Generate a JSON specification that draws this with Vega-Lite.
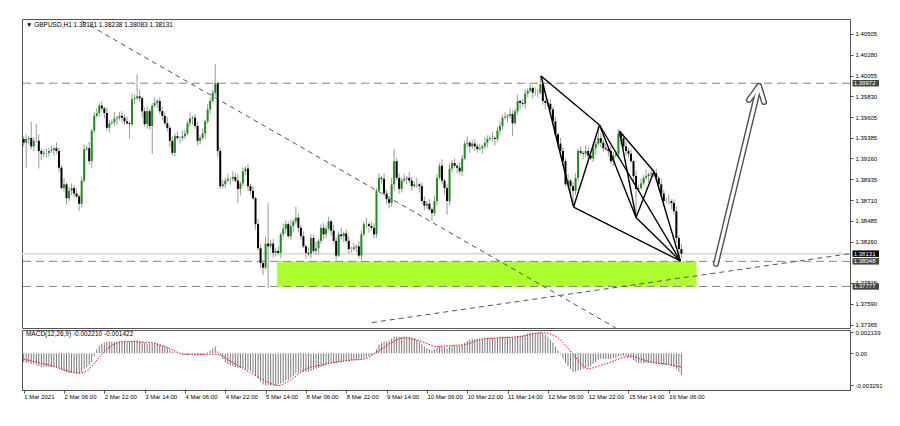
{
"$schema":"https://vega.github.io/schema/vega-lite/v6.json",
"background":"white",
"padding":{"left":20,"top":18,"right":0,"bottom":0},
"spacing":2,
"bounds":"flush",
"config":{"view":{"stroke":"#555","strokeWidth":1},"axis":{"labelFont":"Liberation Sans","labelFontSize":6,"labelColor":"#000","domainColor":"#555","tickColor":"#555","tickSize":3,"grid":false,"labelOverlap":false,"labelFlush":false,"labelBound":false}},
"datasets":{
"bars":[
{"i":0,"o":1.3937,"h":1.3940,"l":1.3929,"c":1.3933,"m":-0.0009},
{"i":1,"o":1.3933,"h":1.3942,"l":1.3906,"c":1.3937,"m":-0.0010},
{"i":2,"o":1.3937,"h":1.3940,"l":1.3931,"c":1.3938,"m":-0.0010},
{"i":3,"o":1.3938,"h":1.3956,"l":1.3926,"c":1.3929,"m":-0.0011},
{"i":4,"o":1.3929,"h":1.3939,"l":1.3924,"c":1.3935,"m":-0.0011},
{"i":5,"o":1.3935,"h":1.3953,"l":1.3933,"c":1.3935,"m":-0.0012},
{"i":6,"o":1.3935,"h":1.3942,"l":1.3905,"c":1.3924,"m":-0.0013},
{"i":7,"o":1.3924,"h":1.3926,"l":1.3914,"c":1.3921,"m":-0.0014},
{"i":8,"o":1.3921,"h":1.3926,"l":1.3918,"c":1.3922,"m":-0.0014},
{"i":9,"o":1.3922,"h":1.3927,"l":1.3917,"c":1.3922,"m":-0.0014},
{"i":10,"o":1.3922,"h":1.3927,"l":1.3918,"c":1.3924,"m":-0.0014},
{"i":11,"o":1.3924,"h":1.3930,"l":1.3922,"c":1.3925,"m":-0.0014},
{"i":12,"o":1.3925,"h":1.3929,"l":1.3919,"c":1.3927,"m":-0.0014},
{"i":13,"o":1.3927,"h":1.3933,"l":1.3921,"c":1.3924,"m":-0.0014},
{"i":14,"o":1.3924,"h":1.3928,"l":1.3901,"c":1.3906,"m":-0.0015},
{"i":15,"o":1.3906,"h":1.3909,"l":1.3882,"c":1.3884,"m":-0.0017},
{"i":16,"o":1.3884,"h":1.3895,"l":1.3880,"c":1.3888,"m":-0.0018},
{"i":17,"o":1.3888,"h":1.3890,"l":1.3866,"c":1.3873,"m":-0.0019},
{"i":18,"o":1.3873,"h":1.3885,"l":1.3870,"c":1.3881,"m":-0.0020},
{"i":19,"o":1.3881,"h":1.3889,"l":1.3876,"c":1.3884,"m":-0.0020},
{"i":20,"o":1.3884,"h":1.3887,"l":1.3874,"c":1.3878,"m":-0.0020},
{"i":21,"o":1.3878,"h":1.3883,"l":1.3873,"c":1.3875,"m":-0.0021},
{"i":22,"o":1.3875,"h":1.3877,"l":1.3859,"c":1.3867,"m":-0.0021},
{"i":23,"o":1.3867,"h":1.3896,"l":1.3863,"c":1.3892,"m":-0.0019},
{"i":24,"o":1.3892,"h":1.3931,"l":1.3890,"c":1.3926,"m":-0.0016},
{"i":25,"o":1.3926,"h":1.3930,"l":1.3924,"c":1.3927,"m":-0.0014},
{"i":26,"o":1.3927,"h":1.3934,"l":1.3909,"c":1.3913,"m":-0.0012},
{"i":27,"o":1.3913,"h":1.3948,"l":1.3906,"c":1.3946,"m":-0.0009},
{"i":28,"o":1.3946,"h":1.3966,"l":1.3943,"c":1.3962,"m":-0.0003},
{"i":29,"o":1.3962,"h":1.3970,"l":1.3960,"c":1.3965,"m":0.0004},
{"i":30,"o":1.3965,"h":1.3976,"l":1.3961,"c":1.3973,"m":0.0008},
{"i":31,"o":1.3973,"h":1.3978,"l":1.3968,"c":1.3970,"m":0.0010},
{"i":32,"o":1.3970,"h":1.3972,"l":1.3959,"c":1.3965,"m":0.0011},
{"i":33,"o":1.3965,"h":1.3971,"l":1.3946,"c":1.3949,"m":0.0012},
{"i":34,"o":1.3949,"h":1.3958,"l":1.3944,"c":1.3954,"m":0.0012},
{"i":35,"o":1.3954,"h":1.3958,"l":1.3952,"c":1.3955,"m":0.0012},
{"i":36,"o":1.3955,"h":1.3966,"l":1.3951,"c":1.3959,"m":0.0012},
{"i":37,"o":1.3959,"h":1.3962,"l":1.3952,"c":1.3960,"m":0.0012},
{"i":38,"o":1.3960,"h":1.3966,"l":1.3957,"c":1.3962,"m":0.0012},
{"i":39,"o":1.3962,"h":1.3967,"l":1.3955,"c":1.3960,"m":0.0012},
{"i":40,"o":1.3960,"h":1.3963,"l":1.3952,"c":1.3956,"m":0.0012},
{"i":41,"o":1.3956,"h":1.3961,"l":1.3952,"c":1.3954,"m":0.0012},
{"i":42,"o":1.3954,"h":1.3956,"l":1.3937,"c":1.3953,"m":0.0012},
{"i":43,"o":1.3953,"h":1.3986,"l":1.3950,"c":1.3980,"m":0.0013},
{"i":44,"o":1.3980,"h":1.3985,"l":1.3975,"c":1.3981,"m":0.0013},
{"i":45,"o":1.3981,"h":1.4007,"l":1.3979,"c":1.3983,"m":0.0013},
{"i":46,"o":1.3983,"h":1.3990,"l":1.3977,"c":1.3981,"m":0.0012},
{"i":47,"o":1.3981,"h":1.3983,"l":1.3960,"c":1.3967,"m":0.0012},
{"i":48,"o":1.3967,"h":1.3971,"l":1.3950,"c":1.3953,"m":0.0011},
{"i":49,"o":1.3953,"h":1.3972,"l":1.3948,"c":1.3967,"m":0.0010},
{"i":50,"o":1.3967,"h":1.3970,"l":1.3947,"c":1.3951,"m":0.0010},
{"i":51,"o":1.3951,"h":1.3976,"l":1.3921,"c":1.3973,"m":0.0010},
{"i":52,"o":1.3973,"h":1.3982,"l":1.3971,"c":1.3976,"m":0.0010},
{"i":53,"o":1.3976,"h":1.3980,"l":1.3970,"c":1.3978,"m":0.0010},
{"i":54,"o":1.3978,"h":1.3982,"l":1.3964,"c":1.3967,"m":0.0009},
{"i":55,"o":1.3967,"h":1.3972,"l":1.3957,"c":1.3962,"m":0.0008},
{"i":56,"o":1.3962,"h":1.3965,"l":1.3952,"c":1.3954,"m":0.0007},
{"i":57,"o":1.3954,"h":1.3961,"l":1.3945,"c":1.3949,"m":0.0006},
{"i":58,"o":1.3949,"h":1.3951,"l":1.3928,"c":1.3935,"m":0.0004},
{"i":59,"o":1.3935,"h":1.3940,"l":1.3919,"c":1.3922,"m":0.0002},
{"i":60,"o":1.3922,"h":1.3943,"l":1.3918,"c":1.3940,"m":0.0001},
{"i":61,"o":1.3940,"h":1.3945,"l":1.3936,"c":1.3938,"m":0.0000},
{"i":62,"o":1.3938,"h":1.3940,"l":1.3932,"c":1.3938,"m":-0.0001},
{"i":63,"o":1.3938,"h":1.3946,"l":1.3935,"c":1.3940,"m":-0.0001},
{"i":64,"o":1.3940,"h":1.3947,"l":1.3937,"c":1.3943,"m":-0.0002},
{"i":65,"o":1.3943,"h":1.3957,"l":1.3941,"c":1.3954,"m":-0.0002},
{"i":66,"o":1.3954,"h":1.3966,"l":1.3950,"c":1.3959,"m":-0.0001},
{"i":67,"o":1.3959,"h":1.3962,"l":1.3952,"c":1.3960,"m":-0.0001},
{"i":68,"o":1.3960,"h":1.3964,"l":1.3948,"c":1.3951,"m":-0.0002},
{"i":69,"o":1.3951,"h":1.3956,"l":1.3930,"c":1.3935,"m":-0.0002},
{"i":70,"o":1.3935,"h":1.3941,"l":1.3931,"c":1.3938,"m":-0.0002},
{"i":71,"o":1.3938,"h":1.3948,"l":1.3936,"c":1.3943,"m":-0.0002},
{"i":72,"o":1.3943,"h":1.3958,"l":1.3937,"c":1.3956,"m":-0.0001},
{"i":73,"o":1.3956,"h":1.3975,"l":1.3953,"c":1.3969,"m":0.0001},
{"i":74,"o":1.3969,"h":1.3982,"l":1.3964,"c":1.3978,"m":0.0003},
{"i":75,"o":1.3978,"h":1.3990,"l":1.3976,"c":1.3987,"m":0.0005},
{"i":76,"o":1.3987,"h":1.4018,"l":1.3983,"c":1.3997,"m":0.0007},
{"i":77,"o":1.3997,"h":1.3999,"l":1.3917,"c":1.3924,"m":0.0002},
{"i":78,"o":1.3924,"h":1.3928,"l":1.3883,"c":1.3886,"m":-0.0002},
{"i":79,"o":1.3886,"h":1.3893,"l":1.3884,"c":1.3888,"m":-0.0006},
{"i":80,"o":1.3888,"h":1.3895,"l":1.3884,"c":1.3892,"m":-0.0009},
{"i":81,"o":1.3892,"h":1.3899,"l":1.3890,"c":1.3894,"m":-0.0011},
{"i":82,"o":1.3894,"h":1.3896,"l":1.3888,"c":1.3894,"m":-0.0012},
{"i":83,"o":1.3894,"h":1.3902,"l":1.3891,"c":1.3896,"m":-0.0013},
{"i":84,"o":1.3896,"h":1.3900,"l":1.3890,"c":1.3892,"m":-0.0014},
{"i":85,"o":1.3892,"h":1.3899,"l":1.3868,"c":1.3883,"m":-0.0015},
{"i":86,"o":1.3883,"h":1.3891,"l":1.3876,"c":1.3889,"m":-0.0015},
{"i":87,"o":1.3889,"h":1.3906,"l":1.3886,"c":1.3902,"m":-0.0015},
{"i":88,"o":1.3902,"h":1.3907,"l":1.3898,"c":1.3905,"m":-0.0016},
{"i":89,"o":1.3905,"h":1.3910,"l":1.3881,"c":1.3886,"m":-0.0017},
{"i":90,"o":1.3886,"h":1.3889,"l":1.3877,"c":1.3881,"m":-0.0018},
{"i":91,"o":1.3881,"h":1.3886,"l":1.3871,"c":1.3873,"m":-0.0020},
{"i":92,"o":1.3873,"h":1.3875,"l":1.3839,"c":1.3845,"m":-0.0023},
{"i":93,"o":1.3845,"h":1.3851,"l":1.3816,"c":1.3819,"m":-0.0026},
{"i":94,"o":1.3819,"h":1.3823,"l":1.3798,"c":1.3803,"m":-0.0029},
{"i":95,"o":1.3803,"h":1.3806,"l":1.3790,"c":1.3798,"m":-0.0032},
{"i":96,"o":1.3798,"h":1.3831,"l":1.3796,"c":1.3824,"m":-0.0033},
{"i":97,"o":1.3824,"h":1.3868,"l":1.3776,"c":1.3821,"m":-0.0033},
{"i":98,"o":1.3821,"h":1.3828,"l":1.3818,"c":1.3824,"m":-0.0033},
{"i":99,"o":1.3824,"h":1.3829,"l":1.3809,"c":1.3814,"m":-0.0033},
{"i":100,"o":1.3814,"h":1.3819,"l":1.3810,"c":1.3816,"m":-0.0033},
{"i":101,"o":1.3816,"h":1.3821,"l":1.3812,"c":1.3814,"m":-0.0032},
{"i":102,"o":1.3814,"h":1.3836,"l":1.3808,"c":1.3834,"m":-0.0031},
{"i":103,"o":1.3834,"h":1.3846,"l":1.3831,"c":1.3840,"m":-0.0030},
{"i":104,"o":1.3840,"h":1.3849,"l":1.3835,"c":1.3845,"m":-0.0028},
{"i":105,"o":1.3845,"h":1.3848,"l":1.3830,"c":1.3832,"m":-0.0027},
{"i":106,"o":1.3832,"h":1.3850,"l":1.3828,"c":1.3843,"m":-0.0025},
{"i":107,"o":1.3843,"h":1.3850,"l":1.3836,"c":1.3848,"m":-0.0023},
{"i":108,"o":1.3848,"h":1.3864,"l":1.3845,"c":1.3852,"m":-0.0021},
{"i":109,"o":1.3852,"h":1.3857,"l":1.3836,"c":1.3841,"m":-0.0020},
{"i":110,"o":1.3841,"h":1.3844,"l":1.3828,"c":1.3832,"m":-0.0019},
{"i":111,"o":1.3832,"h":1.3837,"l":1.3819,"c":1.3821,"m":-0.0019},
{"i":112,"o":1.3821,"h":1.3823,"l":1.3808,"c":1.3814,"m":-0.0019},
{"i":113,"o":1.3814,"h":1.3820,"l":1.3810,"c":1.3813,"m":-0.0019},
{"i":114,"o":1.3813,"h":1.3834,"l":1.3808,"c":1.3830,"m":-0.0018},
{"i":115,"o":1.3830,"h":1.3833,"l":1.3814,"c":1.3816,"m":-0.0017},
{"i":116,"o":1.3816,"h":1.3826,"l":1.3812,"c":1.3819,"m":-0.0016},
{"i":117,"o":1.3819,"h":1.3829,"l":1.3812,"c":1.3827,"m":-0.0015},
{"i":118,"o":1.3827,"h":1.3845,"l":1.3824,"c":1.3841,"m":-0.0014},
{"i":119,"o":1.3841,"h":1.3846,"l":1.3829,"c":1.3834,"m":-0.0013},
{"i":120,"o":1.3834,"h":1.3843,"l":1.3830,"c":1.3840,"m":-0.0012},
{"i":121,"o":1.3840,"h":1.3853,"l":1.3838,"c":1.3848,"m":-0.0011},
{"i":122,"o":1.3848,"h":1.3850,"l":1.3832,"c":1.3838,"m":-0.0010},
{"i":123,"o":1.3838,"h":1.3844,"l":1.3824,"c":1.3827,"m":-0.0010},
{"i":124,"o":1.3827,"h":1.3831,"l":1.3806,"c":1.3811,"m":-0.0010},
{"i":125,"o":1.3811,"h":1.3837,"l":1.3809,"c":1.3834,"m":-0.0009},
{"i":126,"o":1.3834,"h":1.3841,"l":1.3828,"c":1.3832,"m":-0.0009},
{"i":127,"o":1.3832,"h":1.3837,"l":1.3825,"c":1.3835,"m":-0.0008},
{"i":128,"o":1.3835,"h":1.3839,"l":1.3824,"c":1.3827,"m":-0.0008},
{"i":129,"o":1.3827,"h":1.3832,"l":1.3813,"c":1.3818,"m":-0.0008},
{"i":130,"o":1.3818,"h":1.3821,"l":1.3814,"c":1.3818,"m":-0.0007},
{"i":131,"o":1.3818,"h":1.3825,"l":1.3816,"c":1.3820,"m":-0.0007},
{"i":132,"o":1.3820,"h":1.3823,"l":1.3815,"c":1.3821,"m":-0.0007},
{"i":133,"o":1.3821,"h":1.3827,"l":1.3808,"c":1.3811,"m":-0.0007},
{"i":134,"o":1.3811,"h":1.3838,"l":1.3806,"c":1.3834,"m":-0.0006},
{"i":135,"o":1.3834,"h":1.3848,"l":1.3832,"c":1.3845,"m":-0.0005},
{"i":136,"o":1.3845,"h":1.3852,"l":1.3841,"c":1.3845,"m":-0.0004},
{"i":137,"o":1.3845,"h":1.3847,"l":1.3836,"c":1.3843,"m":-0.0003},
{"i":138,"o":1.3843,"h":1.3847,"l":1.3838,"c":1.3841,"m":-0.0002},
{"i":139,"o":1.3841,"h":1.3846,"l":1.3829,"c":1.3834,"m":-0.0001},
{"i":140,"o":1.3834,"h":1.3884,"l":1.3830,"c":1.3881,"m":0.0004},
{"i":141,"o":1.3881,"h":1.3900,"l":1.3879,"c":1.3895,"m":0.0009},
{"i":142,"o":1.3895,"h":1.3897,"l":1.3888,"c":1.3894,"m":0.0011},
{"i":143,"o":1.3894,"h":1.3900,"l":1.3875,"c":1.3878,"m":0.0012},
{"i":144,"o":1.3878,"h":1.3882,"l":1.3867,"c":1.3872,"m":0.0012},
{"i":145,"o":1.3872,"h":1.3875,"l":1.3862,"c":1.3868,"m":0.0013},
{"i":146,"o":1.3868,"h":1.3895,"l":1.3864,"c":1.3888,"m":0.0015},
{"i":147,"o":1.3888,"h":1.3926,"l":1.3881,"c":1.3913,"m":0.0017},
{"i":148,"o":1.3913,"h":1.3917,"l":1.3892,"c":1.3895,"m":0.0017},
{"i":149,"o":1.3895,"h":1.3900,"l":1.3878,"c":1.3883,"m":0.0017},
{"i":150,"o":1.3883,"h":1.3895,"l":1.3879,"c":1.3892,"m":0.0017},
{"i":151,"o":1.3892,"h":1.3899,"l":1.3890,"c":1.3894,"m":0.0017},
{"i":152,"o":1.3894,"h":1.3897,"l":1.3888,"c":1.3895,"m":0.0017},
{"i":153,"o":1.3895,"h":1.3901,"l":1.3889,"c":1.3892,"m":0.0017},
{"i":154,"o":1.3892,"h":1.3896,"l":1.3881,"c":1.3886,"m":0.0016},
{"i":155,"o":1.3886,"h":1.3891,"l":1.3884,"c":1.3888,"m":0.0016},
{"i":156,"o":1.3888,"h":1.3895,"l":1.3884,"c":1.3888,"m":0.0014},
{"i":157,"o":1.3888,"h":1.3890,"l":1.3879,"c":1.3886,"m":0.0012},
{"i":158,"o":1.3886,"h":1.3890,"l":1.3867,"c":1.3870,"m":0.0009},
{"i":159,"o":1.3870,"h":1.3875,"l":1.3860,"c":1.3865,"m":0.0007},
{"i":160,"o":1.3865,"h":1.3870,"l":1.3861,"c":1.3867,"m":0.0005},
{"i":161,"o":1.3867,"h":1.3872,"l":1.3859,"c":1.3861,"m":0.0004},
{"i":162,"o":1.3861,"h":1.3863,"l":1.3848,"c":1.3857,"m":0.0003},
{"i":163,"o":1.3857,"h":1.3876,"l":1.3854,"c":1.3870,"m":0.0004},
{"i":164,"o":1.3870,"h":1.3899,"l":1.3865,"c":1.3895,"m":0.0006},
{"i":165,"o":1.3895,"h":1.3911,"l":1.3893,"c":1.3908,"m":0.0007},
{"i":166,"o":1.3908,"h":1.3915,"l":1.3888,"c":1.3892,"m":0.0007},
{"i":167,"o":1.3892,"h":1.3894,"l":1.3877,"c":1.3884,"m":0.0006},
{"i":168,"o":1.3884,"h":1.3888,"l":1.3855,"c":1.3870,"m":0.0005},
{"i":169,"o":1.3870,"h":1.3910,"l":1.3865,"c":1.3905,"m":0.0007},
{"i":170,"o":1.3905,"h":1.3914,"l":1.3901,"c":1.3911,"m":0.0008},
{"i":171,"o":1.3911,"h":1.3916,"l":1.3906,"c":1.3908,"m":0.0008},
{"i":172,"o":1.3908,"h":1.3910,"l":1.3900,"c":1.3906,"m":0.0008},
{"i":173,"o":1.3906,"h":1.3912,"l":1.3899,"c":1.3902,"m":0.0008},
{"i":174,"o":1.3902,"h":1.3920,"l":1.3897,"c":1.3916,"m":0.0009},
{"i":175,"o":1.3916,"h":1.3935,"l":1.3914,"c":1.3932,"m":0.0011},
{"i":176,"o":1.3932,"h":1.3940,"l":1.3928,"c":1.3933,"m":0.0013},
{"i":177,"o":1.3933,"h":1.3935,"l":1.3922,"c":1.3929,"m":0.0014},
{"i":178,"o":1.3929,"h":1.3936,"l":1.3926,"c":1.3932,"m":0.0015},
{"i":179,"o":1.3932,"h":1.3937,"l":1.3924,"c":1.3929,"m":0.0015},
{"i":180,"o":1.3929,"h":1.3932,"l":1.3922,"c":1.3926,"m":0.0015},
{"i":181,"o":1.3926,"h":1.3932,"l":1.3924,"c":1.3927,"m":0.0015},
{"i":182,"o":1.3927,"h":1.3931,"l":1.3921,"c":1.3929,"m":0.0015},
{"i":183,"o":1.3929,"h":1.3939,"l":1.3926,"c":1.3933,"m":0.0016},
{"i":184,"o":1.3933,"h":1.3941,"l":1.3928,"c":1.3937,"m":0.0016},
{"i":185,"o":1.3937,"h":1.3941,"l":1.3935,"c":1.3938,"m":0.0016},
{"i":186,"o":1.3938,"h":1.3945,"l":1.3934,"c":1.3938,"m":0.0016},
{"i":187,"o":1.3938,"h":1.3940,"l":1.3930,"c":1.3937,"m":0.0016},
{"i":188,"o":1.3937,"h":1.3950,"l":1.3934,"c":1.3946,"m":0.0016},
{"i":189,"o":1.3946,"h":1.3956,"l":1.3941,"c":1.3951,"m":0.0017},
{"i":190,"o":1.3951,"h":1.3963,"l":1.3947,"c":1.3960,"m":0.0017},
{"i":191,"o":1.3960,"h":1.3966,"l":1.3958,"c":1.3961,"m":0.0017},
{"i":192,"o":1.3961,"h":1.3964,"l":1.3955,"c":1.3962,"m":0.0017},
{"i":193,"o":1.3962,"h":1.3970,"l":1.3959,"c":1.3964,"m":0.0017},
{"i":194,"o":1.3964,"h":1.3968,"l":1.3940,"c":1.3954,"m":0.0016},
{"i":195,"o":1.3954,"h":1.3970,"l":1.3952,"c":1.3967,"m":0.0017},
{"i":196,"o":1.3967,"h":1.3985,"l":1.3963,"c":1.3978,"m":0.0018},
{"i":197,"o":1.3978,"h":1.3980,"l":1.3969,"c":1.3976,"m":0.0018},
{"i":198,"o":1.3976,"h":1.3980,"l":1.3972,"c":1.3975,"m":0.0018},
{"i":199,"o":1.3975,"h":1.3991,"l":1.3970,"c":1.3986,"m":0.0019},
{"i":200,"o":1.3986,"h":1.3992,"l":1.3982,"c":1.3989,"m":0.0020},
{"i":201,"o":1.3989,"h":1.3997,"l":1.3987,"c":1.3992,"m":0.0021},
{"i":202,"o":1.3992,"h":1.3994,"l":1.3981,"c":1.3987,"m":0.0021},
{"i":203,"o":1.3987,"h":1.3993,"l":1.3984,"c":1.3987,"m":0.0021},
{"i":204,"o":1.3987,"h":1.3991,"l":1.3982,"c":1.3987,"m":0.0021},
{"i":205,"o":1.3987,"h":1.4005,"l":1.3985,"c":1.3996,"m":0.0022},
{"i":206,"o":1.3996,"h":1.4003,"l":1.3974,"c":1.3978,"m":0.0021},
{"i":207,"o":1.3978,"h":1.3980,"l":1.3969,"c":1.3976,"m":0.0019},
{"i":208,"o":1.3976,"h":1.3980,"l":1.3972,"c":1.3975,"m":0.0017},
{"i":209,"o":1.3975,"h":1.3980,"l":1.3964,"c":1.3969,"m":0.0014},
{"i":210,"o":1.3969,"h":1.3972,"l":1.3952,"c":1.3956,"m":0.0011},
{"i":211,"o":1.3956,"h":1.3961,"l":1.3940,"c":1.3942,"m":0.0007},
{"i":212,"o":1.3942,"h":1.3944,"l":1.3926,"c":1.3932,"m":0.0003},
{"i":213,"o":1.3932,"h":1.3938,"l":1.3921,"c":1.3924,"m":-0.0001},
{"i":214,"o":1.3924,"h":1.3928,"l":1.3908,"c":1.3913,"m":-0.0005},
{"i":215,"o":1.3913,"h":1.3916,"l":1.3886,"c":1.3888,"m":-0.0010},
{"i":216,"o":1.3888,"h":1.3899,"l":1.3884,"c":1.3892,"m":-0.0013},
{"i":217,"o":1.3892,"h":1.3894,"l":1.3879,"c":1.3886,"m":-0.0016},
{"i":218,"o":1.3886,"h":1.3890,"l":1.3865,"c":1.3881,"m":-0.0019},
{"i":219,"o":1.3881,"h":1.3900,"l":1.3876,"c":1.3895,"m":-0.0019},
{"i":220,"o":1.3895,"h":1.3927,"l":1.3891,"c":1.3924,"m":-0.0018},
{"i":221,"o":1.3924,"h":1.3929,"l":1.3920,"c":1.3922,"m":-0.0017},
{"i":222,"o":1.3922,"h":1.3924,"l":1.3915,"c":1.3921,"m":-0.0016},
{"i":223,"o":1.3921,"h":1.3930,"l":1.3918,"c":1.3924,"m":-0.0015},
{"i":224,"o":1.3924,"h":1.3928,"l":1.3914,"c":1.3919,"m":-0.0014},
{"i":225,"o":1.3919,"h":1.3922,"l":1.3914,"c":1.3916,"m":-0.0013},
{"i":226,"o":1.3916,"h":1.3934,"l":1.3912,"c":1.3927,"m":-0.0011},
{"i":227,"o":1.3927,"h":1.3934,"l":1.3920,"c":1.3932,"m":-0.0009},
{"i":228,"o":1.3932,"h":1.3951,"l":1.3929,"c":1.3938,"m":-0.0007},
{"i":229,"o":1.3938,"h":1.3943,"l":1.3928,"c":1.3933,"m":-0.0006},
{"i":230,"o":1.3933,"h":1.3936,"l":1.3923,"c":1.3927,"m":-0.0006},
{"i":231,"o":1.3927,"h":1.3932,"l":1.3924,"c":1.3926,"m":-0.0006},
{"i":232,"o":1.3926,"h":1.3928,"l":1.3918,"c":1.3924,"m":-0.0006},
{"i":233,"o":1.3924,"h":1.3930,"l":1.3910,"c":1.3913,"m":-0.0006},
{"i":234,"o":1.3913,"h":1.3923,"l":1.3908,"c":1.3919,"m":-0.0005},
{"i":235,"o":1.3919,"h":1.3924,"l":1.3917,"c":1.3921,"m":-0.0005},
{"i":236,"o":1.3921,"h":1.3948,"l":1.3917,"c":1.3943,"m":-0.0003},
{"i":237,"o":1.3943,"h":1.3945,"l":1.3931,"c":1.3938,"m":-0.0003},
{"i":238,"o":1.3938,"h":1.3942,"l":1.3926,"c":1.3929,"m":-0.0003},
{"i":239,"o":1.3929,"h":1.3934,"l":1.3919,"c":1.3924,"m":-0.0003},
{"i":240,"o":1.3924,"h":1.3927,"l":1.3917,"c":1.3921,"m":-0.0004},
{"i":241,"o":1.3921,"h":1.3926,"l":1.3911,"c":1.3913,"m":-0.0005},
{"i":242,"o":1.3913,"h":1.3915,"l":1.3891,"c":1.3897,"m":-0.0007},
{"i":243,"o":1.3897,"h":1.3903,"l":1.3854,"c":1.3883,"m":-0.0009},
{"i":244,"o":1.3883,"h":1.3888,"l":1.3880,"c":1.3884,"m":-0.0010},
{"i":245,"o":1.3884,"h":1.3894,"l":1.3882,"c":1.3889,"m":-0.0010},
{"i":246,"o":1.3889,"h":1.3898,"l":1.3887,"c":1.3895,"m":-0.0010},
{"i":247,"o":1.3895,"h":1.3904,"l":1.3893,"c":1.3897,"m":-0.0010},
{"i":248,"o":1.3897,"h":1.3901,"l":1.3890,"c":1.3899,"m":-0.0010},
{"i":249,"o":1.3899,"h":1.3904,"l":1.3896,"c":1.3900,"m":-0.0010},
{"i":250,"o":1.3900,"h":1.3903,"l":1.3896,"c":1.3900,"m":-0.0010},
{"i":251,"o":1.3900,"h":1.3905,"l":1.3893,"c":1.3895,"m":-0.0011},
{"i":252,"o":1.3895,"h":1.3897,"l":1.3882,"c":1.3888,"m":-0.0011},
{"i":253,"o":1.3888,"h":1.3894,"l":1.3875,"c":1.3878,"m":-0.0012},
{"i":254,"o":1.3878,"h":1.3882,"l":1.3865,"c":1.3870,"m":-0.0012},
{"i":255,"o":1.3870,"h":1.3873,"l":1.3868,"c":1.3870,"m":-0.0012},
{"i":256,"o":1.3870,"h":1.3877,"l":1.3866,"c":1.3870,"m":-0.0012},
{"i":257,"o":1.3870,"h":1.3872,"l":1.3861,"c":1.3868,"m":-0.0013},
{"i":258,"o":1.3868,"h":1.3872,"l":1.3856,"c":1.3859,"m":-0.0014},
{"i":259,"o":1.3859,"h":1.3864,"l":1.3825,"c":1.3830,"m":-0.0016},
{"i":260,"o":1.3830,"h":1.3833,"l":1.3805,"c":1.38181,"m":-0.0019},
{"i":261,"o":1.38181,"h":1.38238,"l":1.38083,"c":1.38131,"m":-0.00221}
],
"sig":[{"i":0,"s":-0.0006},{"i":10,"s":-0.0012},{"i":22,"s":-0.0020},{"i":26,"s":-0.0016},{"i":30,"s":-0.0004},{"i":35,"s":0.0008},{"i":40,"s":0.0012},{"i":50,"s":0.0011},{"i":57,"s":0.0006},{"i":64,"s":-0.0001},{"i":77,"s":-0.0001},{"i":82,"s":-0.0008},{"i":88,"s":-0.0017},{"i":95,"s":-0.0027},{"i":101,"s":-0.0033},{"i":106,"s":-0.0027},{"i":112,"s":-0.0016},{"i":118,"s":-0.0012},{"i":124,"s":-0.0009},{"i":130,"s":-0.0007},{"i":135,"s":-0.0006},{"i":140,"s":0.0001},{"i":146,"s":0.0011},{"i":151,"s":0.0016},{"i":158,"s":0.0012},{"i":164,"s":0.0007},{"i":170,"s":0.0008},{"i":175,"s":0.0009},{"i":183,"s":0.0015},{"i":190,"s":0.0016},{"i":196,"s":0.0017},{"i":206,"s":0.0021},{"i":212,"s":0.0016},{"i":215,"s":0.0008},{"i":218,"s":-0.0001},{"i":221,"s":-0.0010},{"i":224,"s":-0.0016},{"i":228,"s":-0.0013},{"i":233,"s":-0.0009},{"i":237,"s":-0.0005},{"i":241,"s":-0.0003},{"i":245,"s":-0.0006},{"i":249,"s":-0.0009},{"i":255,"s":-0.0011},{"i":261,"s":-0.001422}],
"lv":[{"p":1.39972,"k":"d"},{"p":1.38048,"k":"d"},{"p":1.37777,"k":"d"},{"p":1.38131,"k":"b"}],
"zone":[{"i":100.5,"i2":267,"p":1.38048,"p2":1.37777}],
"tl":[{"g":1,"i":23.1,"p":1.40644},{"g":1,"i":235,"p":1.37328},{"g":2,"i":138.2,"p":1.37387},{"g":2,"i":327.9,"p":1.38131}],
"pat":[
{"g":1,"o":0,"i":205.3,"p":1.4005},{"g":1,"o":1,"i":218.2,"p":1.38635},
{"g":2,"o":0,"i":205.3,"p":1.4005},{"g":2,"o":1,"i":228.5,"p":1.39521},
{"g":3,"o":0,"i":218.2,"p":1.38635},{"g":3,"o":1,"i":228.5,"p":1.39521},
{"g":4,"o":0,"i":218.2,"p":1.38635},{"g":4,"o":1,"i":260.6,"p":1.38052},
{"g":5,"o":0,"i":228.5,"p":1.39521},{"g":5,"o":1,"i":243,"p":1.38522},
{"g":6,"o":0,"i":228.5,"p":1.39521},{"g":6,"o":1,"i":260.6,"p":1.38052},
{"g":7,"o":0,"i":236.4,"p":1.39456},{"g":7,"o":1,"i":250.1,"p":1.39019},
{"g":8,"o":0,"i":236.4,"p":1.39456},{"g":8,"o":1,"i":243,"p":1.38522},
{"g":9,"o":0,"i":243,"p":1.38522},{"g":9,"o":1,"i":250.1,"p":1.39019},
{"g":10,"o":0,"i":243,"p":1.38522},{"g":10,"o":1,"i":260.6,"p":1.38052},
{"g":11,"o":0,"i":250.1,"p":1.39019},{"g":11,"o":1,"i":260.6,"p":1.38052}
],
"arrow":[
{"g":1,"o":0,"i":274.7,"p":1.3802},{"g":1,"o":1,"i":291.8,"p":1.39942},
{"g":2,"o":0,"i":287.8,"p":1.39791},{"g":2,"o":1,"i":291.8,"p":1.39942},{"g":2,"o":2,"i":293.8,"p":1.39769}
],
"tags":[{"p":1.39972,"t":"1.39972"},{"p":1.38131,"t":"1.38131"},{"p":1.38048,"t":"1.38048"},{"p":1.37777,"t":"1.37777"}],
"hdr":[{"t":"▼ GBPUSD,H1  1.38181 1.38238 1.38083 1.38131"}],
"mhdr":[{"t":"MACD(12,26,9) -0.002210 -0.001422"}]
},
"vconcat":[
{
"width":828,"height":309,
"resolve":{"axis":{"y":"independent"}},
"layer":[
{"data":{"name":"zone"},"mark":{"type":"rect","color":"#adff2f"},
 "encoding":{"x":{"field":"i","type":"quantitative","scale":{"domain":[-0.67,327.9],"nice":false,"zero":false},"axis":null},"x2":{"field":"i2"},
 "y":{"field":"p","type":"quantitative","title":null,"scale":{"domain":[1.37328,1.40666],"nice":false,"zero":false},"axis":{"orient":"right","title":null,"values":[1.40505,1.4028,1.40055,1.3983,1.39605,1.39385,1.3916,1.38935,1.3871,1.38485,1.3826,1.37815,1.3759,1.37365],"format":".5f","labelAlign":"left","labelBaseline":"middle","labelPadding":2,"labelOverlap":false,"labelFlush":false}},"y2":{"field":"p2"}}},
{"data":{"name":"lv"},"transform":[{"filter":"datum.k=='b'"}],"mark":{"type":"rule","color":"#dcdcdc","strokeWidth":2},
 "encoding":{"y":{"field":"p","type":"quantitative","axis":null}}},
{"data":{"name":"lv"},"transform":[{"filter":"datum.k=='d'"}],"mark":{"type":"rule","color":"#85857a","strokeWidth":1,"strokeDash":[8,5]},
 "encoding":{"y":{"field":"p","type":"quantitative","axis":null}}},
{"data":{"name":"tl"},"mark":{"type":"line","color":"#555","strokeWidth":1,"strokeDash":[5,4],"clip":true},
 "encoding":{"x":{"field":"i","type":"quantitative","axis":null},"y":{"field":"p","type":"quantitative","axis":null},"detail":{"field":"g","type":"nominal"}}},
{"data":{"name":"bars"},"mark":{"type":"rule","color":"#9a9a9a","strokeWidth":1},
 "encoding":{"x":{"field":"i","type":"quantitative","axis":null},"y":{"field":"l","type":"quantitative","axis":null},"y2":{"field":"h"}}},
{"data":{"name":"bars"},"mark":{"type":"rule","strokeWidth":2},
 "encoding":{"x":{"field":"i","type":"quantitative","axis":null},"y":{"field":"o","type":"quantitative","axis":null},"y2":{"field":"c"},
 "color":{"condition":{"test":"datum.c>datum.o","value":"#1e8c1e"},"value":"#000000"}}},
{"data":{"name":"pat"},"mark":{"type":"line","color":"#000","strokeWidth":1.4},
 "encoding":{"x":{"field":"i","type":"quantitative","axis":null},"y":{"field":"p","type":"quantitative","axis":null},"detail":{"field":"g","type":"nominal"},"order":{"field":"o","type":"quantitative"}}},
{"data":{"name":"arrow"},"mark":{"type":"line","color":"#505050","strokeWidth":6,"strokeCap":"round","strokeJoin":"round"},
 "encoding":{"x":{"field":"i","type":"quantitative","axis":null},"y":{"field":"p","type":"quantitative","axis":null},"detail":{"field":"g","type":"nominal"},"order":{"field":"o","type":"quantitative"}}},
{"data":{"name":"arrow"},"mark":{"type":"line","color":"#ffffff","strokeWidth":3.2,"strokeCap":"round","strokeJoin":"round"},
 "encoding":{"x":{"field":"i","type":"quantitative","axis":null},"y":{"field":"p","type":"quantitative","axis":null},"detail":{"field":"g","type":"nominal"},"order":{"field":"o","type":"quantitative"}}},
{"data":{"name":"hdr"},"mark":{"type":"text","align":"left","baseline":"middle","font":"Liberation Sans","fontSize":6.5,"color":"#000"},
 "encoding":{"x":{"datum":0.9,"type":"quantitative","axis":null},"y":{"datum":1.4060,"type":"quantitative","axis":null},"text":{"field":"t","type":"nominal"}}},
{"data":{"name":"tags"},"mark":{"type":"rule","strokeWidth":6.5},
 "encoding":{"x":{"datum":328.9,"type":"quantitative","axis":null},"x2":{"datum":339.4},"y":{"field":"p","type":"quantitative","axis":null},
 "color":{"condition":{"test":"datum.t=='1.38131'","value":"#000000"},"value":"#46463a"}}},
{"data":{"name":"tags"},"mark":{"type":"text","align":"left","baseline":"middle","font":"Liberation Sans","fontSize":6,"color":"#ffffff"},
 "encoding":{"x":{"datum":329.4,"type":"quantitative","axis":null},"y":{"field":"p","type":"quantitative","axis":null},"text":{"field":"t","type":"nominal"}}}
]
},
{
"width":828,"height":60,
"resolve":{"axis":{"y":"independent","x":"independent"}},
"layer":[
{"data":{"name":"bars"},"mark":{"type":"rule","color":"#7a7a7a","strokeWidth":1},
 "encoding":{"x":{"field":"i","type":"quantitative","title":null,"scale":{"domain":[-0.67,327.9],"nice":false,"zero":false},
  "axis":{"orient":"bottom","title":null,"values":[0,16,32,48,64,80,96,112,128,144,160,176,192,208,224,240,256],
  "labelExpr":"['1 Mar 2021','2 Mar 06:00','2 Mar 22:00','3 Mar 14:00','4 Mar 06:00','4 Mar 22:00','5 Mar 14:00','8 Mar 06:00','8 Mar 22:00','9 Mar 14:00','10 Mar 06:00','10 Mar 22:00','11 Mar 14:00','12 Mar 06:00','12 Mar 22:00','15 Mar 14:00','16 Mar 06:00'][round(datum.value/16)]",
  "labelAlign":"left","labelPadding":0,"labelOverlap":false,"labelFlush":false,"tickSize":3}},
 "y":{"field":"m","type":"quantitative","title":null,"scale":{"domain":[-0.00376,0.00239],"nice":false,"zero":false},
  "axis":{"orient":"right","title":null,"values":[0.002139,0,-0.003291],"labelExpr":"datum.value==0?'0.00':(datum.value<0?'-0.003291':'0.002139')","labelAlign":"left","labelBaseline":"middle","labelPadding":2,"labelOverlap":false,"labelFlush":false}},
 "y2":{"datum":0}}},
{"data":{"name":"sig"},"mark":{"type":"line","color":"#ff0000","strokeWidth":1,"strokeDash":[1.5,1.5],"interpolate":"monotone"},
 "encoding":{"x":{"field":"i","type":"quantitative","axis":null},"y":{"field":"s","type":"quantitative","axis":null}}},
{"data":{"name":"mhdr"},"mark":{"type":"text","align":"left","baseline":"middle","font":"Liberation Sans","fontSize":6.5,"color":"#000"},
 "encoding":{"x":{"datum":0.9,"type":"quantitative","axis":null},"y":{"datum":0.00198,"type":"quantitative","axis":null},"text":{"field":"t","type":"nominal"}}}
]
}
]
}
